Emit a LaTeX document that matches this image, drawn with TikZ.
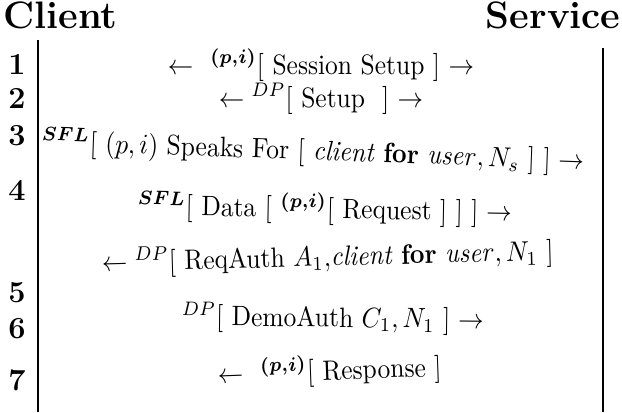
\documentclass[tikz,border=0pt]{standalone}
\usepackage{amsmath}
\usepackage{bm}
\usepackage{graphicx}
% message text is set slightly taller than wide
\newcommand\msgtext[1]{\scalebox{1}[1.1]{#1}}
\begin{document}
\begin{tikzpicture}[x=0.392pt,y=-0.392pt,
  party/.style={inner sep=0pt, font=\fontsize{15}{17}\selectfont\bfseries},
  stepno/.style={anchor=base, inner sep=0pt, font=\large\bfseries},
  msg/.style={anchor=base, inner sep=0pt, font=\normalsize},
  lifeline/.style={line width=1pt}]
\useasboundingbox (0,0) rectangle (622,412);

% participants
\node[party, anchor=base west] (client) at (3,28) {Client};
\node[party, anchor=base east] (service) at (621,28) {Service};

% lifelines
\coordinate (ctop) at (38,40);
\coordinate (cbot) at (38,412);
\coordinate (stop) at (603,48);
\coordinate (sbot) at (603,412);
\draw[lifeline] (ctop) -- (cbot);
\draw[lifeline] (stop) -- (sbot);

% step numbers
\node[stepno] (n1) at (17,74) {1};
\node[stepno] (n2) at (17,108) {2};
\node[stepno] (n3) at (17,145) {3};
\node[stepno] (n4) at (17,200) {4};
\node[stepno] (n5) at (17,302) {5};
\node[stepno] (n6) at (17,338) {6};
\node[stepno] (n7) at (17,390) {7};

% messages
\node[msg] (m1) at (321,74)
  {\msgtext{$\leftarrow$\ \ $^{\bm{(p,i)}}$[ Session Setup ] $\rightarrow$}};
\node[msg] (m2) at (321,107)
  {\msgtext{$\leftarrow{}^{DP}$[ Setup\ \ ] $\rightarrow$}};
\node[msg, rotate=-2] (m3) at (313,160)
  {\msgtext{$^{\bm{SFL}}$[ $(p,i)$ Speaks For [ \textit{client} \textbf{for} $\mathit{user}, N_s$ ] ] $\rightarrow$}};
\node[msg, rotate=-1] (m4) at (325,218)
  {\msgtext{$^{\bm{SFL}}$[ Data [ $^{\bm{(p,i)}}$[ Request ] ] ] $\rightarrow$}};
\node[msg, rotate=1.5] (m5) at (328,266)
  {\msgtext{$\leftarrow{}^{DP}$[ ReqAuth $A_1,$\textit{client} \textbf{for} $\mathit{user}, N_1$ ]}};
\node[msg, rotate=-0.6] (m6) at (333,327)
  {\msgtext{$^{DP}$[ DemoAuth $C_1, N_1$ ] $\rightarrow$}};
\node[msg, rotate=2] (m7) at (330,380)
  {\msgtext{$\leftarrow$\ \ $^{\bm{(p,i)}}$[ Response ]}};
\end{tikzpicture}
\end{document}
